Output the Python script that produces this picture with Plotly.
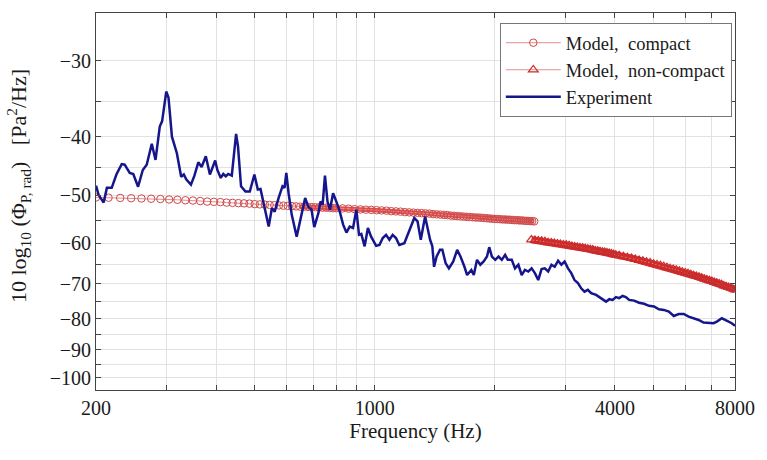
import math
import plotly.graph_objects as go

# ---------------- data ----------------
# Experiment: frequency (Hz) and level (dB)
exp_freq = [200, 203, 209, 213, 219, 225, 232, 236, 243, 248,
            255, 262, 268, 276, 282, 289, 293, 300, 304, 310,
            319, 327, 332, 337, 346, 353, 361, 368, 377, 386,
            398, 403, 411, 417, 423, 429, 438, 449, 454, 462,
            474, 486, 499, 509, 517, 529, 542, 552, 561, 574,
            587, 594, 600, 608, 619, 637, 650, 669, 681, 694,
            705, 722, 731, 740, 750, 761, 772, 786, 801, 817,
            833, 849, 865, 882, 899, 913, 925, 943, 961, 979,
            1008, 1027, 1047, 1067, 1088, 1109, 1130, 1152, 1186, 1220,
            1256, 1280, 1304, 1337, 1355, 1376, 1394, 1408, 1429, 1457,
            1477, 1505, 1534, 1573, 1609, 1640, 1678, 1704, 1746, 1771,
            1804, 1839, 1875, 1911, 1936, 1966, 2004, 2043, 2082, 2122,
            2155, 2205, 2247, 2291, 2335, 2379, 2426, 2473, 2520, 2569,
            2619, 2668, 2721, 2773, 2825, 2881, 2936, 2992, 3051, 3109,
            3168, 3231, 3292, 3355, 3421, 3487, 3588, 3692, 3800, 3872,
            3948, 4024, 4100, 4181, 4261, 4342, 4469, 4598, 4732, 4870,
            5011, 5157, 5307, 5461, 5619, 5782, 5950, 6123, 6301, 6484,
            6672, 6866, 7066, 7205, 7414, 7556, 7700, 7851, 8000]
exp_level = [-48.2, -49.9, -51.4, -48.6, -48.6, -46.2, -44.4, -44.5, -45.9, -46.1,
             -48.4, -45.4, -44.5, -41.1, -43.7, -38.5, -37.7, -33.7, -34.5, -40.0,
             -42.6, -46.6, -46.2, -47.1, -48.0, -46.4, -44.1, -44.9, -43.1, -46.2,
             -43.8, -45.4, -46.8, -46.1, -46.5, -46.1, -46.4, -39.6, -41.5, -48.3,
             -49.3, -49.3, -46.2, -48.9, -48.8, -52.2, -56.3, -52.5, -53.2, -50.5,
             -48.3, -48.6, -45.9, -49.6, -53.8, -58.5, -54.9, -50.5, -52.2, -52.8,
             -56.4, -53.5, -51.2, -51.8, -46.4, -51.2, -52.8, -49.6, -51.2, -53.2,
             -55.9, -57.6, -56.3, -56.6, -52.8, -58.1, -57.9, -60.7, -56.6, -58.5,
             -60.6, -60.4, -58.8, -58.1, -59.2, -58.1, -58.8, -60.4, -60.0, -57.0,
             -54.5, -55.2, -59.2, -54.2, -56.6, -59.2, -60.7, -65.6, -63.1, -61.5,
             -61.5, -64.7, -66.0, -64.3, -61.5, -63.1, -65.6, -67.7, -66.4, -67.7,
             -63.9, -65.1, -64.3, -63.1, -60.9, -63.1, -63.9, -63.1, -63.9, -62.7,
             -63.9, -63.9, -66.0, -65.1, -67.7, -66.4, -66.8, -66.0, -67.2, -69.0,
             -66.2, -66.0, -66.8, -65.1, -65.6, -64.1, -65.1, -64.3, -66.0, -67.2,
             -69.0, -69.8, -71.2, -72.1, -71.6, -72.5, -73.0, -73.9, -74.9, -74.2,
             -74.4, -73.6, -73.9, -73.3, -73.6, -74.4, -74.6, -75.2, -75.5, -76.1,
             -76.3, -77.1, -77.3, -77.8, -79.1, -78.5, -78.5, -79.3, -79.8, -80.3,
             -81.1, -81.1, -81.3, -80.8, -79.8, -80.3, -80.8, -81.3, -82.1]

# Model, compact
compact_freq = [200, 215, 230, 245, 260, 275, 290, 305, 320, 335,
                350, 365, 380, 395, 410, 425, 440, 455, 470, 485,
                500, 515, 530, 545, 560, 575, 590, 605, 620, 635,
                650, 665, 680, 695, 710, 725, 740, 755, 770, 785,
                800,
                830, 860, 890, 920, 950, 980, 1010, 1040, 1070, 1100,
                1130, 1160, 1190, 1220, 1250, 1280, 1310, 1340, 1370, 1400,
                1430, 1460, 1490, 1520, 1550, 1580, 1610, 1640, 1670, 1700,
                1730, 1760, 1790, 1820, 1850, 1880, 1910, 1940, 1970, 2000,
                2030, 2060, 2090, 2120, 2150, 2180, 2210, 2240, 2270, 2300,
                2330, 2360, 2390, 2420, 2450, 2480, 2510]
compact_level = [-50.4, -50.45, -50.5, -50.55, -50.6, -50.65, -50.7, -50.8, -50.85, -50.95,
                 -51.0, -51.1, -51.2, -51.25, -51.3, -51.4, -51.45, -51.5, -51.55, -51.6,
                 -51.7, -51.75, -51.8, -51.85, -51.9, -51.95, -52.0, -52.05, -52.1, -52.15,
                 -52.2, -52.2, -52.25, -52.3, -52.3, -52.35, -52.4, -52.4, -52.45, -52.5,
                 -52.5,
                 -52.55, -52.6, -52.7, -52.75, -52.8, -52.85, -52.9, -52.95, -53.0, -53.1,
                 -53.15, -53.2, -53.3, -53.35, -53.4, -53.45, -53.5, -53.55, -53.6, -53.7,
                 -53.75, -53.8, -53.85, -53.9, -54.0, -54.05, -54.1, -54.15, -54.2, -54.25,
                 -54.3, -54.35, -54.4, -54.4, -54.45, -54.5, -54.55, -54.6, -54.65, -54.7,
                 -54.7, -54.75, -54.8, -54.8, -54.85, -54.85, -54.9, -54.95, -54.95, -55.0,
                 -55.0, -55.05, -55.1, -55.1, -55.15, -55.15, -55.2]

# Model, non-compact
noncompact_freq = [2470, 2520, 2570, 2620, 2670, 2720, 2770, 2820, 2870, 2920,
                   2970, 3020, 3070, 3120, 3170, 3220, 3270, 3320, 3370, 3420,
                   3470, 3520, 3570, 3620, 3670, 3720, 3770, 3820, 3870, 3920,
                   3970, 4020,
                   4100, 4200, 4300, 4400, 4500, 4600, 4700, 4800, 4900, 5000,
                   5100, 5200, 5300, 5400, 5500, 5600, 5700, 5800, 5900, 6000,
                   6100, 6200, 6300, 6400, 6500, 6600, 6700, 6800, 6900, 7000,
                   7100, 7200, 7300, 7400, 7500, 7600, 7700, 7800, 7900, 8000]
noncompact_level = [-59.2, -59.3, -59.4, -59.5, -59.6, -59.8, -59.9, -60.0, -60.1, -60.2,
                    -60.3, -60.4, -60.5, -60.7, -60.8, -60.9, -61.0, -61.1, -61.2, -61.3,
                    -61.4, -61.5, -61.7, -61.8, -61.9, -62.0, -62.1, -62.2, -62.3, -62.4,
                    -62.6, -62.7,
                    -62.85, -63.1, -63.3, -63.5, -63.75, -64.0, -64.2, -64.4, -64.6, -64.9,
                    -65.1, -65.3, -65.5, -65.8, -66.0, -66.2, -66.4, -66.65, -66.9, -67.1,
                    -67.3, -67.55, -67.8, -68.0, -68.2, -68.45, -68.7, -68.9, -69.1, -69.3,
                    -69.6, -69.8, -70.0, -70.2, -70.5, -70.7, -70.9, -71.1, -71.35, -71.6]

# axis ticks
x_grid = [200, 300, 400, 500, 600, 700, 800, 900, 1000,
          2000, 3000, 4000, 5000, 6000, 7000, 8000]
x_labels = {200: "200", 1000: "1000", 4000: "4000", 8000: "8000"}
y_grid = [-30, -35, -40, -45, -50, -55, -60, -65, -70, -75, -80, -85, -90, -95, -100]
y_labels = [-30, -40, -50, -60, -70, -80, -90, -100]

# ---------------- figure ----------------
FONT = "Liberation Serif, Times New Roman, serif"
TXT = "#1a1a1a"

def mag(vals):
    # the level axis is drawn as a (reversed) log axis of |level|
    return [-v for v in vals]

fig = go.Figure()
# dense overlapping markers form a solid red band in the reference
fig.add_trace(go.Scatter(
    x=compact_freq[30:], y=mag(compact_level[30:]), mode="lines",
    line=dict(color="rgb(226,75,75)", width=4.5), showlegend=False, hoverinfo="skip"))
fig.add_trace(go.Scatter(
    x=noncompact_freq, y=mag(noncompact_level), mode="lines",
    line=dict(color="rgb(234,40,40)", width=7), showlegend=False, hoverinfo="skip"))

fig.add_trace(go.Scatter(
    x=compact_freq, y=mag(compact_level), mode="lines+markers",
    name="Model,\u00a0 compact",
    line=dict(color="rgb(232,140,140)", width=1),
    marker=dict(symbol="circle-open", size=7.5, color="rgb(205,75,75)",
                line=dict(width=1))))
fig.add_trace(go.Scatter(
    x=noncompact_freq, y=mag(noncompact_level), mode="lines+markers",
    name="Model,\u00a0 non-compact",
    line=dict(color="rgb(232,140,140)", width=1),
    marker=dict(symbol="triangle-up-open", size=8.5, color="rgb(200,45,45)",
                line=dict(width=1.2))))
fig.add_trace(go.Scatter(
    x=exp_freq, y=mag(exp_level), mode="lines", name="Experiment",
    line=dict(color="rgb(22,22,140)", width=2.5)))

fig.update_xaxes(
    type="log", range=[math.log10(200), math.log10(8000)],
    tickmode="array", tickvals=x_grid,
    ticktext=[x_labels.get(v, "") for v in x_grid],
    showgrid=True, gridcolor="rgb(226,226,226)", gridwidth=1,
    ticks="inside", ticklen=5, tickcolor="#444",
    showline=True, linecolor="#444", linewidth=1, mirror="ticks",
    tickfont=dict(family=FONT, size=20, color=TXT),
    title=dict(text="Frequency (Hz)", font=dict(family=FONT, size=21, color=TXT),
               standoff=4),
    zeroline=False)

fig.update_yaxes(
    type="log", range=[math.log10(104.8), math.log10(25)],
    tickmode="array", tickvals=mag(y_grid),
    ticktext=[("\u2212%d" % abs(v)) if v in y_labels else "" for v in y_grid],
    showgrid=True, gridcolor="rgb(226,226,226)", gridwidth=1,
    ticks="inside", ticklen=5, tickcolor="#444",
    showline=True, linecolor="#444", linewidth=1, mirror="ticks",
    tickfont=dict(family=FONT, size=20, color=TXT),
    zeroline=False)

fig.add_annotation(
    text="10 log<sub>10</sub> (\u03a6<sub>P, rad</sub>)\u00a0\u00a0 [Pa<sup>2</sup>/Hz]",
    textangle=-90, xref="paper", yref="paper", x=-0.121, y=0.54,
    xanchor="center", yanchor="middle", showarrow=False,
    font=dict(family=FONT, size=22, color=TXT))

fig.update_layout(
    width=767, height=460,
    margin=dict(l=96, r=27, t=13, b=70),
    paper_bgcolor="white", plot_bgcolor="white",
    showlegend=True,
    legend=dict(x=0.995, y=0.973, xanchor="right", yanchor="top",
                bgcolor="white", bordercolor="#777", borderwidth=1,
                font=dict(family=FONT, size=18.5, color=TXT),
                itemwidth=55, tracegroupgap=0),
)

fig.write_html("out.html")
